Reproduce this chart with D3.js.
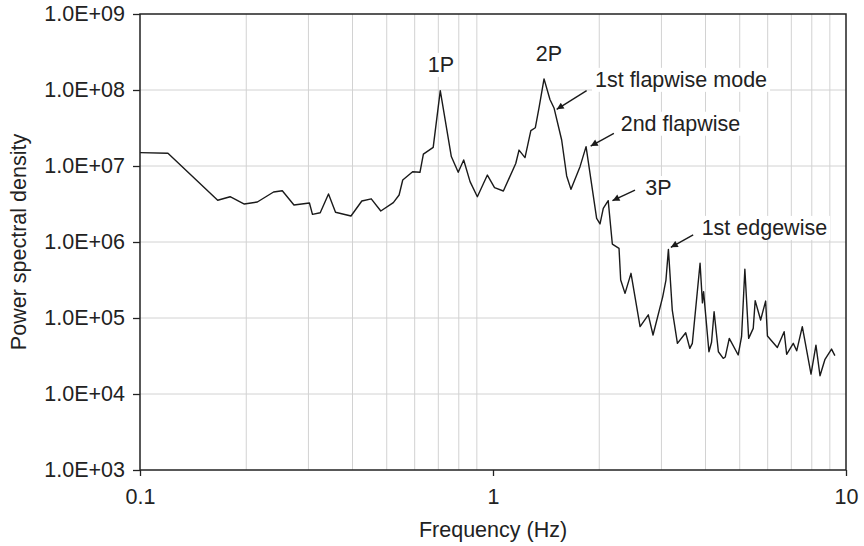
<!DOCTYPE html>
<html>
<head>
<meta charset="utf-8">
<script src="https://cdn.jsdelivr.net/npm/d3@7"></script>
<style>
  body { margin: 0; background: #fff; }
  svg text { font-family: "Liberation Sans", Arial, sans-serif; fill: #222; }
</style>
</head>
<body>
<svg class="psd-chart"></svg>
<script>
// frequency (Hz) and power spectral density
var freq = [0.100, 0.120, 0.166, 0.180, 0.1975, 0.215, 0.239, 0.253, 0.273, 0.302,
    0.308, 0.324, 0.342, 0.358, 0.396, 0.425, 0.452, 0.481, 0.522, 0.542,
    0.555, 0.592, 0.621, 0.635, 0.677, 0.709, 0.762, 0.797, 0.826, 0.861,
    0.903, 0.964, 1.01, 1.07, 1.16, 1.185, 1.232, 1.28, 1.318, 1.352,
    1.395, 1.45, 1.49, 1.565, 1.617, 1.663, 1.764, 1.835, 1.966, 2.01,
    2.053, 2.12, 2.178, 2.275, 2.30, 2.366, 2.46, 2.61, 2.754, 2.84,
    3.025, 3.09, 3.14, 3.22, 3.33, 3.515, 3.61, 3.67, 3.86, 3.92,
    3.95, 4.09, 4.16, 4.23, 4.35, 4.49, 4.55, 4.67, 4.95, 5.06,
    5.17, 5.30, 5.46, 5.53, 5.73, 5.92, 5.99, 6.39, 6.68, 6.79,
    7.09, 7.25, 7.52, 7.96, 8.22, 8.44, 8.72, 9.10, 9.30];
var psd = [1.5e7, 1.47e7, 3.54e6, 3.94e6, 3.16e6, 3.36e6, 4.55e6, 4.73e6, 3.07e6, 3.26e6,
    2.31e6, 2.43e6, 4.28e6, 2.46e6, 2.2e6, 3.46e6, 3.7e6, 2.56e6, 3.3e6, 4.15e6,
    6.55e6, 8.4e6, 8.26e6, 1.43e7, 1.76e7, 9.8e7, 1.33e7, 8.26e6, 1.2e7, 6.22e6,
    3.94e6, 7.6e6, 5.19e6, 4.69e6, 1.08e7, 1.62e7, 1.29e7, 2.92e7, 3.19e7, 6.03e7,
    1.4e8, 7.5e7, 5.74e7, 2.2e7, 7.4e6, 4.93e6, 9.8e6, 1.8e7, 2.05e6, 1.73e6,
    2.77e6, 3.5e6, 9.4e5, 8.26e5, 3.16e5, 2.11e5, 3.87e5, 7.7e4, 1.1e5, 5.97e4,
    1.9e5, 3.16e5, 8.0e5, 1.27e5, 4.64e4, 6.4e4, 3.98e4, 4.64e4, 5.25e5, 1.58e5,
    2.22e5, 3.6e4, 4.8e4, 1.21e5, 3.6e4, 2.95e4, 3.07e4, 5.4e4, 3.26e4, 5.68e4,
    4.37e5, 5.4e4, 7.3e4, 1.69e5, 9.4e4, 1.67e5, 5.8e4, 4.1e4, 6.6e4, 3.33e4,
    4.64e4, 3.7e4, 7.7e4, 1.83e4, 4.4e4, 1.74e4, 2.86e4, 3.9e4, 3.2e4];

var xTicks = [0.1, 1, 10];
var xMinorTicks = [0.2, 0.3, 0.4, 0.5, 0.6, 0.7, 0.8, 0.9, 2, 3, 4, 5, 6, 7, 8, 9];
var yTicks = [1e3, 1e4, 1e5, 1e6, 1e7, 1e8, 1e9];

// label text, where the text starts, where the arrow starts and points (data coords)
var annoText = ["1P", "2P", "1st flapwise mode", "2nd flapwise", "3P", "1st edgewise"];
var annoTextAt = [[0.712, 1.73e8], [1.44, 2.43e8], [1.945, 1.1e8], [2.30, 2.91e7], [2.70, 4.15e6], [3.90, 1.24e6]];
var annoTail = [null, null, [1.842, 9.8e7], [2.20, 2.69e7], [2.525, 4.83e6], [3.69, 1.24e6]];
var annoTip = [null, null, [1.515, 5.57e7], [1.891, 1.83e7], [2.18, 3.5e6], [3.19, 8.5e5]];

var data = freq.map(function(f, i) { return {f: f, v: psd[i]}; });

makeChart(data);

function makeChart(data) {
    var width = 864, height = 546;
    var margin = {top: 14, right: 18, bottom: 76, left: 140};
    var w = width - margin.left - margin.right;
    var h = height - margin.top - margin.bottom;
    var fontSize = "21.5px";

    var x = d3.scaleLog().domain([0.1, 10]).range([0, w]);
    var y = d3.scaleLog().domain([1e3, 1e9]).range([h, 0]);

    var svg = d3.select(".psd-chart")
        .attr("width", width)
        .attr("height", height);

    var g = svg.append("g")
        .attr("transform", "translate(" + margin.left + "," + margin.top + ")");

    // grid
    g.append("g")
        .selectAll("line")
        .data(xMinorTicks)
        .enter().append("line")
        .attr("x1", function(d) { return x(d); })
        .attr("x2", function(d) { return x(d); })
        .attr("y1", 0)
        .attr("y2", h)
        .attr("stroke", "#d2d2d2")
        .attr("stroke-width", 1);

    g.append("g")
        .selectAll("line")
        .data(yTicks.slice(1, -1))
        .enter().append("line")
        .attr("x1", 0)
        .attr("x2", w)
        .attr("y1", function(d) { return y(d); })
        .attr("y2", function(d) { return y(d); })
        .attr("stroke", "#d2d2d2")
        .attr("stroke-width", 1);

    // white boxes behind the annotation text, they hide the grid
    var labels = g.append("g");
    annoText.forEach(function(t, i) {
        var p = annoTextAt[i];
        var txt = labels.append("text")
            .attr("x", x(p[0]))
            .attr("y", y(p[1]))
            .attr("text-anchor", i < 2 ? "middle" : "start")
            .style("font-size", fontSize)
            .text(t);
        var bb = txt.node().getBBox();
        labels.insert("rect", "text")
            .attr("x", bb.x - 3)
            .attr("y", bb.y)
            .attr("width", bb.width + 6)
            .attr("height", bb.height)
            .attr("fill", "#fff");
    });

    // the spectrum
    var line = d3.line()
        .x(function(d) { return x(d.f); })
        .y(function(d) { return y(d.v); });

    g.append("path")
        .datum(data)
        .attr("fill", "none")
        .attr("stroke", "#1a1a1a")
        .attr("stroke-width", 1.4)
        .attr("stroke-linejoin", "round")
        .attr("d", line);

    // arrows
    svg.append("defs").append("marker")
        .attr("id", "head")
        .attr("viewBox", "0 0 10 10")
        .attr("refX", 10)
        .attr("refY", 5)
        .attr("markerWidth", 9)
        .attr("markerHeight", 7)
        .attr("markerUnits", "userSpaceOnUse")
        .attr("orient", "auto")
        .append("path")
        .attr("d", "M0,0 L10,5 L0,10 z")
        .attr("fill", "#1a1a1a");

    annoTip.forEach(function(tip, i) {
        if (!tip) return;
        var tail = annoTail[i];
        g.append("line")
            .attr("x1", x(tail[0]))
            .attr("y1", y(tail[1]))
            .attr("x2", x(tip[0]))
            .attr("y2", y(tip[1]))
            .attr("stroke", "#1a1a1a")
            .attr("stroke-width", 1.4)
            .attr("marker-end", "url(#head)");
    });

    // axes
    var fmtE = function(d) {
        var e = Math.round(Math.log10(d));
        return "1.0E+" + (e < 10 ? "0" : "") + e;
    };

    var yAxis = g.append("g")
        .call(d3.axisLeft(y).tickValues(yTicks).tickFormat(fmtE).tickSize(7).tickPadding(8));
    yAxis.select(".domain").remove();
    yAxis.selectAll(".tick line").attr("stroke", "#222").attr("stroke-width", 1.3);
    yAxis.selectAll(".tick text")
        .attr("fill", "#222")
        .style("font-size", fontSize)
        .style("font-family", "'Liberation Sans', Arial, sans-serif");

    var xAxis = g.append("g")
        .attr("transform", "translate(0," + h + ")")
        .call(d3.axisBottom(x).tickValues(xTicks).tickFormat(function(d) { return d; }).tickSize(6).tickPadding(13));
    xAxis.select(".domain").remove();
    xAxis.selectAll(".tick line").attr("stroke", "#222").attr("stroke-width", 1.3);
    xAxis.selectAll(".tick text")
        .attr("fill", "#222")
        .style("font-size", fontSize)
        .style("font-family", "'Liberation Sans', Arial, sans-serif");

    // frame round the plot
    g.append("rect")
        .attr("x", 0)
        .attr("y", 0)
        .attr("width", w)
        .attr("height", h)
        .attr("fill", "none")
        .attr("stroke", "#222")
        .attr("stroke-width", 1.5);

    // axis titles
    g.append("text")
        .attr("x", x(1))
        .attr("y", h + 67)
        .attr("text-anchor", "middle")
        .style("font-size", fontSize)
        .text("Frequency (Hz)");

    g.append("text")
        .attr("transform", "rotate(-90)")
        .attr("x", -h / 2)
        .attr("y", -114)
        .attr("text-anchor", "middle")
        .style("font-size", fontSize)
        .text("Power spectral density");
}
</script>
</body>
</html>
